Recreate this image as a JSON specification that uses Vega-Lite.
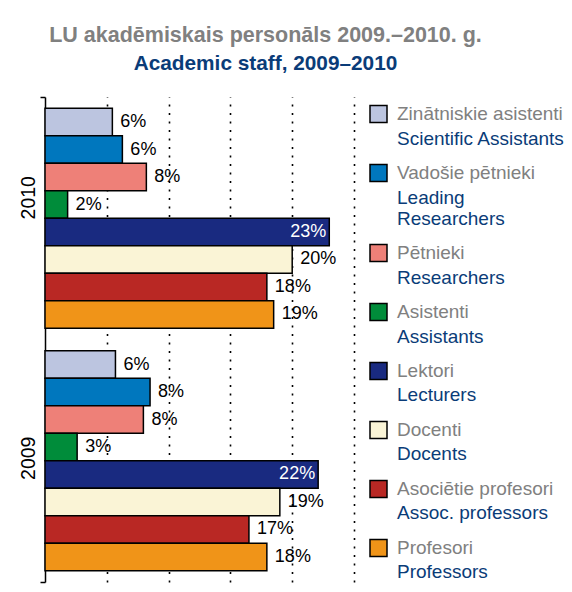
{
  "$schema": "https://vega.github.io/schema/vega-lite/v6.json",
  "autosize": {"type": "none"},
  "padding": {"left": 45, "top": 97, "right": 218, "bottom": 10},
  "width": 309,
  "height": 485,
  "background": "white",
  "config": {"view": {"stroke": null}, "font": "Liberation Sans"},
  "title": {
    "text": "LU akadēmiskais personāls 2009.–2010. g.",
    "subtitle": "Academic staff, 2009–2010",
    "anchor": "middle",
    "frame": "group",
    "dx": 66,
    "offset": 22,
    "font": "Liberation Sans",
    "fontSize": 21.5,
    "fontWeight": "bold",
    "color": "#808080",
    "subtitleFont": "Liberation Sans",
    "subtitleFontSize": 20.8,
    "subtitleFontWeight": "bold",
    "subtitleColor": "#0a3c78",
    "subtitlePadding": 7.5
  },
  "data": {
    "values": [
      {"year": "2010", "category": "Zinātniskie asistenti|Scientific Assistants", "share": 5.45, "label": "6%"},
      {"year": "2010", "category": "Vadošie pētnieki|Leading|Researchers", "share": 6.26, "label": "6%"},
      {"year": "2010", "category": "Pētnieki|Researchers", "share": 8.2, "label": "8%"},
      {"year": "2010", "category": "Asistenti|Assistants", "share": 1.83, "label": "2%"},
      {"year": "2010", "category": "Lektori|Lecturers", "share": 23.0, "label": "23%"},
      {"year": "2010", "category": "Docenti|Docents", "share": 20.0, "label": "20%"},
      {"year": "2010", "category": "Asociētie profesori|Assoc. professors", "share": 17.95, "label": "18%"},
      {"year": "2010", "category": "Profesori|Professors", "share": 18.5, "label": "19%"},
      {"year": "2009", "category": "Zinātniskie asistenti|Scientific Assistants", "share": 5.7, "label": "6%"},
      {"year": "2009", "category": "Vadošie pētnieki|Leading|Researchers", "share": 8.5, "label": "8%"},
      {"year": "2009", "category": "Pētnieki|Researchers", "share": 7.96, "label": "8%"},
      {"year": "2009", "category": "Asistenti|Assistants", "share": 2.6, "label": "3%"},
      {"year": "2009", "category": "Lektori|Lecturers", "share": 22.1, "label": "22%"},
      {"year": "2009", "category": "Docenti|Docents", "share": 19.0, "label": "19%"},
      {"year": "2009", "category": "Asociētie profesori|Assoc. professors", "share": 16.5, "label": "17%"},
      {"year": "2009", "category": "Profesori|Professors", "share": 17.95, "label": "18%"}
    ]
  },
  "encoding": {
    "y": {
      "field": "year",
      "type": "nominal",
      "sort": ["2010", "2009"],
      "scale": {"paddingInner": 0, "paddingOuter": 0},
      "axis": {
        "title": null,
        "labelAngle": -90,
        "labelFontSize": 19.5,
        "labelFont": "Liberation Sans",
        "labelColor": "#000000",
        "labelPadding": 2,
        "labelOffset": {"condition": {"test": "datum.value === '2010'", "value": -21}, "value": -3},
        "tickBand": "extent",
        "tickSize": 5,
        "tickColor": "#000000",
        "tickWidth": 1.5,
        "tickOpacity": {"condition": {"test": "datum.value === '2010'", "value": 0}, "value": 1},
        "domainColor": "#000000",
        "domainWidth": 1.5,
        "grid": false
      }
    },
    "yOffset": {
      "field": "category",
      "type": "nominal",
      "scale": {
        "domain": [
          "Zinātniskie asistenti|Scientific Assistants",
          "Vadošie pētnieki|Leading|Researchers",
          "Pētnieki|Researchers",
          "Asistenti|Assistants",
          "Lektori|Lecturers",
          "Docenti|Docents",
          "Asociētie profesori|Assoc. professors",
          "Profesori|Professors"
        ],
        "paddingInner": 0,
        "paddingOuter": 0.41
      }
    },
    "x": {
      "field": "share",
      "type": "quantitative",
      "scale": {"domain": [0, 25], "nice": false},
      "axis": {
        "title": null,
        "labels": false,
        "ticks": false,
        "domain": false,
        "grid": true,
        "values": [5, 10, 15, 20, 25],
        "gridColor": "#000000",
        "gridWidth": 1.6,
        "gridDash": [2, 6.5]
      }
    }
  },
  "layer": [
    {
      "mark": {"type": "bar", "strokeWidth": 1.5},
      "encoding": {
        "fill": {
          "field": "category",
          "type": "nominal",
          "scale": {
            "domain": [
              "Zinātniskie asistenti|Scientific Assistants",
              "Vadošie pētnieki|Leading|Researchers",
              "Pētnieki|Researchers",
              "Asistenti|Assistants",
              "Lektori|Lecturers",
              "Docenti|Docents",
              "Asociētie profesori|Assoc. professors",
              "Profesori|Professors"
            ],
            "range": ["#bcc5e0", "#0077be", "#ee8078", "#008c3a", "#192a80", "#faf4d6", "#b92824", "#f09418"]
          },
          "legend": {
            "orient": "none",
            "legendX": 324,
            "legendY": 7.5,
            "padding": 0,
            "title": null,
            "symbolType": "square",
            "symbolSize": 289,
            "symbolStrokeColor": "#000000",
            "symbolStrokeWidth": 1.5,
            "labelFont": "Liberation Sans",
            "labelFontSize": 19,
            "labelBaseline": "middle",
            "labelColor": "#808080",
            "labelOffset": 9,
            "labelLimit": 300,
            "rowPadding": 16,
            "labelExpr": "split(split(datum.label, '|')[0] + replace(substring(datum.label, indexof(datum.label, '|')), regexp('[^|]+', 'g'), ' '), '|')"
          }
        },
        "stroke": {
          "field": "category",
          "type": "nominal",
          "sort": null,
          "scale": {"range": ["#000000", "#000000", "#000000", "#000000", "#000000", "#000000", "#000000", "#000000"]},
          "legend": {
            "orient": "none",
            "legendX": 324,
            "legendY": 11.5,
            "padding": 0,
            "title": null,
            "symbolType": "square",
            "symbolSize": 289,
            "symbolStrokeColor": "#000000",
            "symbolStrokeWidth": 1.5,
            "symbolFillColor": "#ffffff",
            "symbolOpacity": 0,
            "labelFont": "Liberation Sans",
            "labelFontSize": 19,
            "labelBaseline": "middle",
            "labelColor": "#0a3c78",
            "labelOffset": 9,
            "labelLimit": 300,
            "rowPadding": 17.86,
            "labelExpr": "split(' ' + substring(datum.label, indexof(datum.label, '|')), '|')"
          }
        }
      }
    },
    {
      "transform": [{"filter": "indexof(datum.category, 'Lecturers') < 0"}],
      "mark": {"type": "text", "align": "left", "baseline": "middle", "dx": 8, "fontSize": 18, "font": "Liberation Sans", "color": "#000000"},
      "encoding": {"text": {"field": "label"}}
    },
    {
      "transform": [{"filter": "indexof(datum.category, 'Lecturers') >= 0"}],
      "mark": {"type": "text", "align": "right", "baseline": "middle", "dx": -3, "fontSize": 18, "font": "Liberation Sans", "color": "#ffffff"},
      "encoding": {"text": {"field": "label"}}
    }
  ]
}
